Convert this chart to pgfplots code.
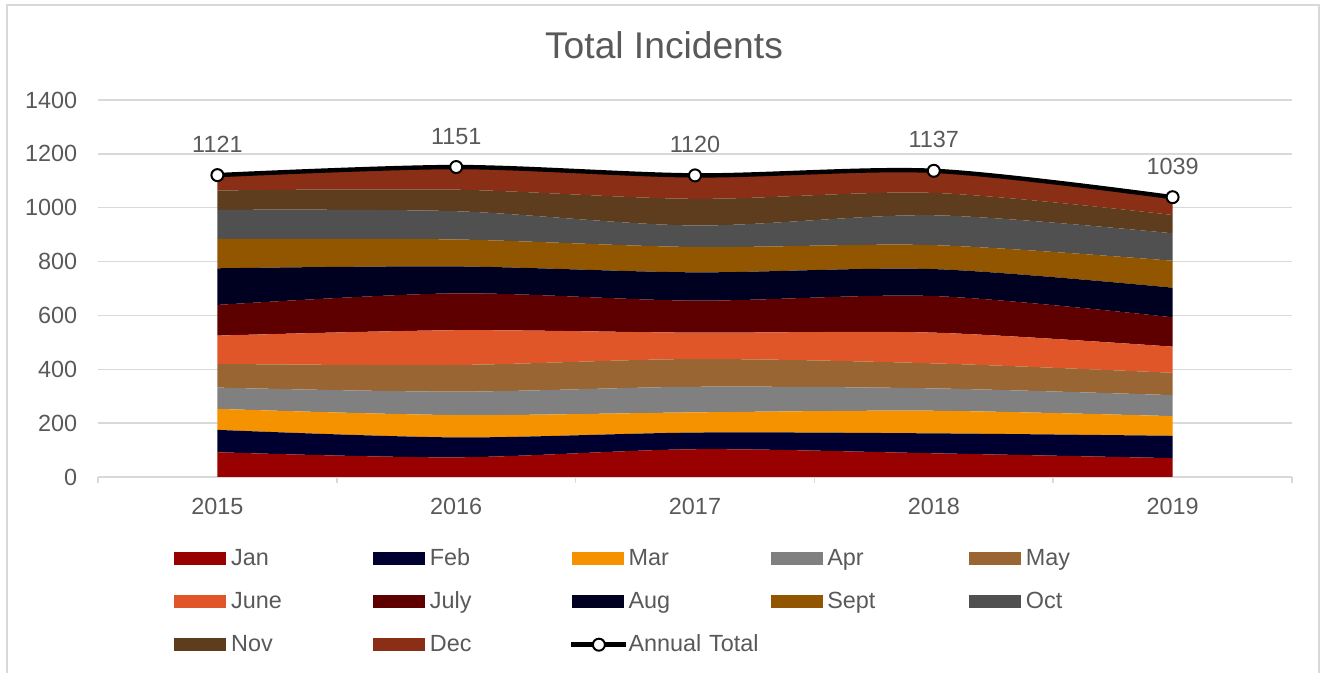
\documentclass[border=0pt]{standalone}
\usepackage{fontspec}
\setmainfont{Liberation Sans}
\usepackage{pgfplots}
\pgfplotsset{compat=1.18}
\definecolor{txt}{RGB}{89,89,89}
\definecolor{gridc}{RGB}{217,217,217}
\definecolor{cJan}{RGB}{153,0,0}
\definecolor{cFeb}{RGB}{0,0,48}
\definecolor{cMar}{RGB}{245,146,0}
\definecolor{cApr}{RGB}{128,128,128}
\definecolor{cMay}{RGB}{153,102,51}
\definecolor{cJun}{RGB}{225,86,41}
\definecolor{cJul}{RGB}{94,0,0}
\definecolor{cAug}{RGB}{0,0,32}
\definecolor{cSep}{RGB}{147,86,0}
\definecolor{cOct}{RGB}{80,80,80}
\definecolor{cNov}{RGB}{93,61,30}
\definecolor{cDec}{RGB}{139,46,22}
\newcommand\lblfont{\fontsize{11.7}{14}\selectfont}
\pgfplotsset{
  swatch/.style={legend image code/.code={\fill[##1] (0pt,-3.25pt) rectangle (26pt,3.25pt);}},
  common/.style={at={(49pt,98pt)}, anchor=south west,
    scale only axis, width=597pt, height=188.5pt,
    xmin=-0.5, xmax=4.5, ymin=0, ymax=1400},
}
\begin{document}
\begin{tikzpicture}[x=1pt,y=1pt]
\path[use as bounding box] (0,0) rectangle (660,336.5);
\draw[gridc, line width=1pt] (3.5,0) -- (3.5,334) -- (659.5,334) -- (659.5,0);
\node[text=txt, font=\fontsize{18.6}{22}\selectfont] at (332,314) {Total Incidents};
\begin{axis}[
  common,
  axis x line*=bottom, axis y line*=left,
  y axis line style={draw=none},
  x axis line style={gridc, line width=0.75pt},
  xtick={0,1,2,3,4}, xticklabels={2015,2016,2017,2018,2019},
  minor xtick={-0.5,0.5,1.5,2.5,3.5,4.5},
  major x tick style={draw=none},
  minor x tick style={gridc, line width=0.75pt},
  minor tick length=3pt, tick align=outside,
  ytick={0,200,...,1400},
  ytick style={draw=none},
  ymajorgrids, grid style={gridc, line width=0.75pt},
  /pgf/number format/assume math mode=true,
  /pgf/number format/1000 sep={},
  ticklabel style={font=\lblfont, text=txt, inner sep=0pt},
  yticklabel style={xshift=-6pt},
  xticklabel style={yshift=-6.3pt},
  stack plots=y,
  legend columns=5,
  legend cell align=left,
  legend style={at={(0.0587,-0.148)}, anchor=north west, draw=none, fill=none,
    font=\lblfont, text=txt,
    /tikz/every even column/.style={column sep=0pt},
    /tikz/every odd column/.style={column sep=0pt},
    nodes={inner xsep=2.35pt, inner ysep=0pt, text width=68.65pt, minimum height=21.5pt}},
]
\addplot[fill=cJan, draw=none, swatch, smooth] coordinates {(0,92) (1,73) (2,103) (3,88) (4,70)} \closedcycle;
\addlegendentry{Jan}
\addplot[fill=cFeb, draw=none, swatch, smooth] coordinates {(0,83) (1,74) (2,62) (3,74) (4,83)} \closedcycle;
\addlegendentry{Feb}
\addplot[fill=cMar, draw=none, swatch, smooth] coordinates {(0,78) (1,83) (2,75) (3,84) (4,73)} \closedcycle;
\addlegendentry{Mar}
\addplot[fill=cApr, draw=none, swatch, smooth] coordinates {(0,79) (1,87) (2,95) (3,83) (4,78)} \closedcycle;
\addlegendentry{Apr}
\addplot[fill=cMay, draw=none, swatch, smooth] coordinates {(0,88) (1,99) (2,103) (3,93) (4,83)} \closedcycle;
\addlegendentry{May}
\addplot[fill=cJun, draw=none, swatch, smooth] coordinates {(0,105) (1,129) (2,98) (3,114) (4,97)} \closedcycle;
\addlegendentry{June}
\addplot[fill=cJul, draw=none, swatch, smooth] coordinates {(0,114) (1,137) (2,119) (3,136) (4,109)} \closedcycle;
\addlegendentry{July}
\addplot[fill=cAug, draw=none, swatch, smooth] coordinates {(0,136) (1,100) (2,105) (3,100) (4,110)} \closedcycle;
\addlegendentry{Aug}
\addplot[fill=cSep, draw=none, swatch, smooth] coordinates {(0,109) (1,100) (2,94) (3,89) (4,100)} \closedcycle;
\addlegendentry{Sept}
\addplot[fill=cOct, draw=none, swatch, smooth] coordinates {(0,108) (1,105) (2,80) (3,111) (4,102)} \closedcycle;
\addlegendentry{Oct}
\addplot[fill=cNov, draw=none, swatch, smooth] coordinates {(0,72) (1,80) (2,99) (3,83) (4,68)} \closedcycle;
\addlegendentry{Nov}
\addplot[fill=cDec, draw=none, swatch, smooth] coordinates {(0,57) (1,84) (2,87) (3,82) (4,66)} \closedcycle;
\addlegendentry{Dec}
\addlegendimage{legend image code/.code={
    \path[draw=none, fill=none] (0pt,-3.25pt) rectangle (26pt,3.25pt);
    \draw[overlay, draw=black, fill=none, line width=2.2pt] (-0.5pt,0pt) -- (27pt,0pt);
    \draw[overlay, draw=black, fill=white, line width=1pt] (13.5pt,0pt) circle (3pt);}}
\addlegendentry{Annual Total}
\end{axis}
\begin{axis}[common, hide axis, clip=false]
\addplot[draw=black, line width=2.2pt, smooth, mark=*, mark size=3pt,
  mark options={fill=white, draw=black, line width=1pt, solid},
  nodes near coords, point meta=explicit symbolic,
  nodes near coords style={font=\lblfont, text=txt, anchor=south, inner sep=0pt, yshift=10.8pt}]
  coordinates {(0,1121) [1121] (1,1151) [1151] (2,1120) [1120] (3,1137) [1137] (4,1039) [1039]};
\end{axis}
\end{tikzpicture}
\end{document}
